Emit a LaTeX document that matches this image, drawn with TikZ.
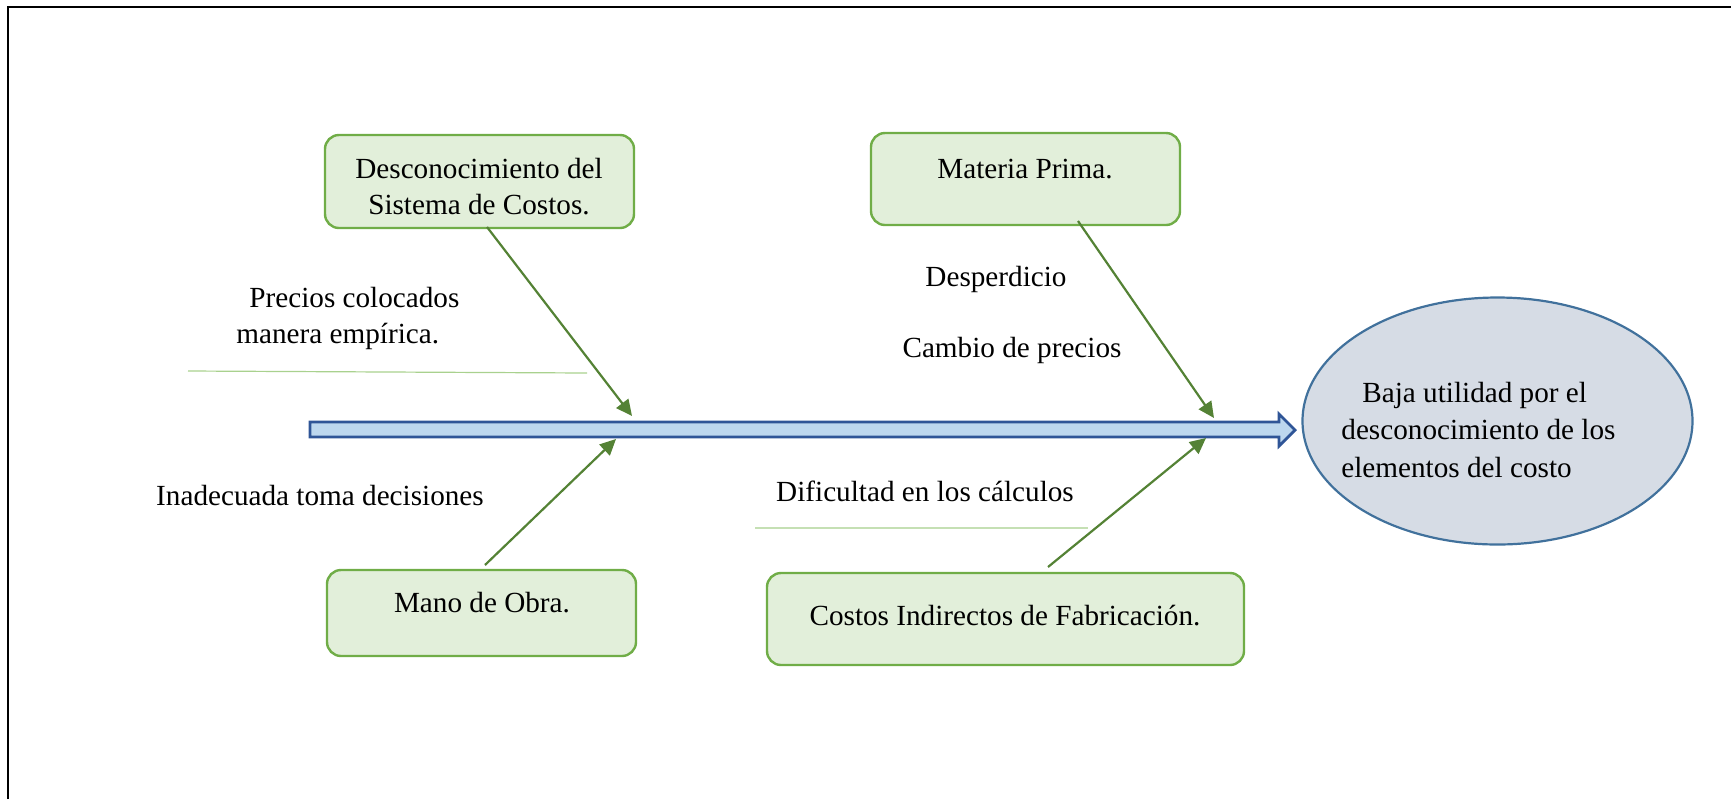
\documentclass[tikz,border=0pt]{standalone}
\usepackage{fontspec}
\setmainfont{Liberation Serif}
\usetikzlibrary{shapes.geometric,arrows.meta}
\definecolor{boxfill}{HTML}{E2EFDA}
\definecolor{boxline}{HTML}{70AD47}
\definecolor{arrowgreen}{HTML}{548235}
\definecolor{spinefill}{HTML}{BDD7EE}
\definecolor{spineline}{HTML}{2F5597}
\definecolor{ellfill}{HTML}{D6DCE5}
\definecolor{ellline}{HTML}{41719C}
\definecolor{thinA}{HTML}{A9D18E}
\definecolor{thinB}{HTML}{C5E0B4}
\begin{document}
\begin{tikzpicture}[x=0.5pt,y=-0.5pt,font=\fontsize{14.6}{18}\selectfont,
  cbox/.style={draw=boxline,fill=boxfill,line width=1.2pt,rounded corners=7pt,inner sep=0pt},
  lbl/.style={inner sep=0pt,align=center},
  bone/.style={draw=arrowgreen,line width=1.1pt,-{Triangle[length=8pt,width=7.5pt]}},
  spine/.style={draw=spineline,fill=spinefill,line width=1.4pt,line join=miter},
  effect/.style={ellipse,draw=ellline,fill=ellfill,line width=1.1pt,inner sep=0pt},
  thinline/.style={line width=0.6pt}]
\useasboundingbox (0,0) rectangle (1731,799);
\draw[line width=1.4pt] (8,799) -- (8,7) -- (1731,7);

% boxes
\node[cbox,minimum width=154.5pt,minimum height=46.5pt] (b1) at (479.5,181.5) {};
\node[cbox,minimum width=154.5pt,minimum height=46pt] (b2) at (1025.5,179) {};
\node[cbox,minimum width=154.5pt,minimum height=43pt] (b3) at (481.5,613) {};
\node[cbox,minimum width=238.5pt,minimum height=46pt] (b4) at (1005.5,619) {};

\node[lbl] (t1) at (479,187) {Desconocimiento del\\Sistema de Costos.};
\node[lbl] (t2) at (1025,169) {Materia Prima.};
\node[lbl] (t3) at (482,603) {Mano de Obra.};
\node[lbl] (t4) at (1005,616) {Costos Indirectos de Fabricación.};

% effect
\node[effect,minimum width=195pt,minimum height=123.5pt] (eff) at (1497.5,421) {};
\node[lbl,align=left,anchor=west,font=\fontsize{14.6}{18.75}\selectfont] (efft) at (1341,430)
  {\hspace*{10.5pt}Baja utilidad por el\\desconocimiento de los\\elementos del costo};

% spine
\draw[spine] (310,422) -- (1279,422) -- (1279,414) -- (1295,430) -- (1279,446) -- (1279,437) -- (310,437) -- cycle;

% cause texts
\node[lbl,align=left,anchor=west] (c1) at (236,318.5) {\hspace*{6.5pt}Precios colocados\\manera empírica.};
\node[lbl] (c2) at (996,279) {Desperdicio};
\node[lbl] (c3) at (1012,350) {Cambio de precios};
\node[lbl] (c4) at (320,496) {Inadecuada toma decisiones};
\node[lbl] (c5) at (925,491) {Dificultad en los cálculos};

\draw[thinline,draw=thinA] (188,371) -- (587,373);
\draw[thinline,draw=thinB] (755,528) -- (1088,528);

% bones
\coordinate (s1) at (487,227); \coordinate (e1) at (632,416);
\coordinate (s2) at (1078,221); \coordinate (e2) at (1214,418);
\coordinate (s3) at (485,565); \coordinate (e3) at (616,439);
\coordinate (s4) at (1048,567); \coordinate (e4) at (1206,438);
\draw[bone] (s1) -- (e1);
\draw[bone] (s2) -- (e2);
\draw[bone] (s3) -- (e3);
\draw[bone] (s4) -- (e4);
\end{tikzpicture}
\end{document}
